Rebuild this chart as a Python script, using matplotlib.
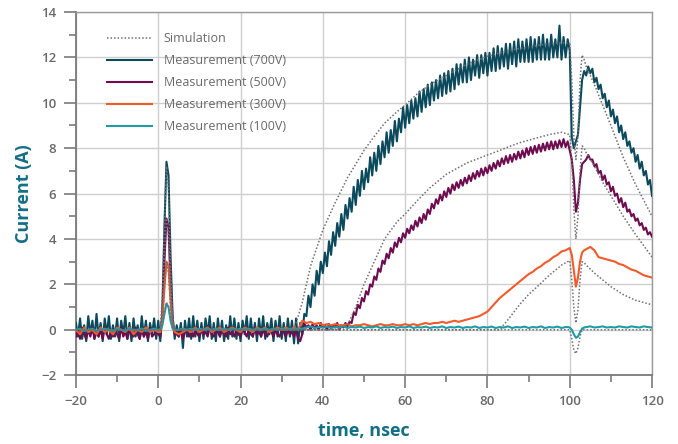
import numpy as np
import matplotlib
matplotlib.use("Agg")
from matplotlib import pyplot as plt
from matplotlib.ticker import MultipleLocator

# 700V / 500V traces are sampled every 0.5 ns
t_fine = np.arange(-20, 120.5, 0.5)
# 300V / 100V traces: 1 ns, finer around the pulse and the dip
t_coarse = np.concatenate([np.arange(-20, 1), np.arange(0.5, 4.5, 0.5), np.arange(5, 100),
                           np.arange(99.5, 104.5, 0.5), np.arange(105, 121)])

meas_700 = [
    # -20 .. 0
    0.3, -0.3, 0.5, -0.4, 0.2, -0.5, 0.6, -0.2, 0.4, -0.4, 0.7, -0.3, 0.3, -0.5, 0.5, -0.2, 0.6, -0.4, 0.2, -0.3,
    0.5, -0.5, 0.4, -0.2, 0.6, -0.4, 0.3, -0.5, 0.5, -0.3, 0.2, -0.4, 0.6, -0.3, 0.4, -0.5, 0.3, -0.2, 0.5, -0.4, 0.4,
    # 0.5 .. 4
    -0.5, 0.8, 4.5, 7.4, 6.8, 3.2, 0.6, -0.4,
    # 4.5 .. 35
    0.2, -0.3, 0.3, -0.8, 0.4, -0.3, 0.5, -0.4, 0.6, -0.3, 0.4, -0.5, 0.3, -0.4, 0.5, -0.2, 0.6, -0.4, 0.3, -0.5,
    0.5, -0.3, 0.4, -0.5, 0.2, -0.4, 0.6, -0.3, 0.5, -0.4, 0.3, -0.5, 0.4, -0.2, 0.6, -0.4, 0.5, -0.3, 0.3, -0.5,
    0.5, -0.3, 0.6, -0.4, 0.3, -0.2, 0.5, -0.5, 0.4, -0.3, 0.6, -0.4, 0.3, -0.5, 0.5, -0.3, 0.4, -0.6, 0.5, -0.6,
    0.3, -0.2,
    # 35.5 .. 99.5
    0.7, 0.6, 1.5, 1.0, 2.0, 1.5, 2.6, 2.0, 3.0, 2.5, 3.4, 2.8, 3.9, 3.3, 4.3, 3.7, 4.7, 4.1, 5.1, 4.4,
    5.5, 4.9, 5.8, 5.2, 6.3, 5.5, 6.6, 5.9, 7.0, 6.2, 7.1, 6.5, 7.6, 6.8, 7.8, 7.0, 8.1, 7.3, 8.3, 7.6,
    8.7, 7.8, 8.8, 8.1, 9.2, 8.3, 9.3, 8.7, 9.8, 8.9, 9.9, 9.1, 10.1, 9.3, 10.2, 9.4, 10.5, 9.6, 10.6, 9.8,
    10.8, 9.9, 10.9, 10.1, 11.0, 10.2, 11.2, 10.3, 11.3, 10.4, 11.4, 10.5, 11.5, 10.6, 11.7, 10.8, 11.7, 10.9, 11.9, 10.9,
    12.0, 11.0, 11.9, 11.2, 12.1, 11.1, 12.1, 11.3, 12.2, 11.2, 12.2, 11.4, 12.4, 11.4, 12.5, 11.5, 12.4, 11.6, 12.6, 11.5,
    12.6, 11.7, 12.7, 11.6, 12.8, 11.8, 12.7, 11.8, 12.8, 11.8, 12.9, 11.8, 12.8, 11.9, 12.9, 11.9, 13.0, 11.9, 12.8, 11.9,
    13.0, 12.0, 12.8, 12.0, 13.4, 11.9, 12.9, 12.0, 12.8,
    # 100 .. 120
    12.3, 8.5, 8.0, 8.3, 8.6, 9.8, 11.0, 11.4, 11.2, 11.6, 11.3, 11.5, 10.9, 11.1, 10.6, 10.8, 10.2, 10.4, 9.8, 10.1,
    9.4, 9.7, 9.1, 9.4, 8.7, 9.0, 8.4, 8.7, 8.1, 8.3, 7.8, 8.0, 7.4, 7.7, 7.1, 7.4, 6.8, 7.0, 6.4, 6.6, 5.9]

meas_500 = [
    # -20 .. 0
    -0.3, 0.0, -0.4, 0.1, -0.2, -0.4, 0.0, -0.3, 0.1, -0.4, -0.1, -0.3, 0.0, -0.4, 0.1, -0.2, -0.4, 0.0, -0.3, 0.0,
    -0.2, -0.4, 0.1, -0.3, -0.1, -0.4, 0.0, -0.2, -0.3, 0.1, -0.2, -0.4, 0.0, -0.3, -0.1, -0.4, 0.1, -0.3, -0.2, 0.0,
    -0.2,
    # 0.5 .. 4
    -0.3, 0.6, 3.0, 4.9, 4.5, 2.0, 0.3, -0.2,
    # 4.5 .. 35
    -0.2, -0.3, 0.0, -0.4, -0.1, 0.0, -0.3, -0.1, -0.3, 0.0, -0.2, -0.3, 0.0, -0.2, -0.1, -0.3, 0.1, -0.2, -0.3, 0.0,
    -0.1, -0.3, 0.0, -0.2, -0.3, 0.1, -0.2, -0.1, -0.3, 0.0, -0.2, -0.3, 0.0, -0.1, -0.3, 0.0, -0.2, -0.3, 0.1, -0.2,
    -0.1, -0.3, 0.0, -0.2, -0.3, 0.0, -0.1, -0.3, 0.0, -0.2, -0.3, 0.0, -0.1, -0.3, 0.0, -0.2, -0.1, -0.3, 0.0, -0.4,
    -0.5, -0.2,
    # 35.5 .. 46.5
    0.3, 0.1, 0.2, 0.0, 0.25, 0.05, 0.2, 0.0, 0.3, 0.1, 0.2, 0.0, 0.25, 0.05, 0.2, 0.1, 0.3, 0.0, 0.2, 0.1,
    0.3, 0.15, 0.35,
    # 47 .. 99.5
    0.3, 0.75, 0.65, 1.1, 0.95, 1.4, 1.25, 1.7, 1.55, 2.0, 1.9, 2.35, 2.2, 2.7, 2.55, 3.05, 2.9, 3.35, 3.15, 3.6,
    3.4, 3.85, 3.65, 4.05, 3.85, 4.25, 4.05, 4.45, 4.25, 4.6, 4.4, 4.8, 4.55, 4.95, 4.7, 5.1, 4.85, 5.3, 5.1, 5.55,
    5.35, 5.75, 5.55, 5.95, 5.7, 6.1, 5.85, 6.25, 6.0, 6.4, 6.15, 6.5, 6.25, 6.6, 6.35, 6.7, 6.45, 6.8, 6.55, 6.9,
    6.65, 7.0, 6.75, 7.1, 6.8, 7.15, 6.9, 7.25, 7.0, 7.35, 7.1, 7.45, 7.2, 7.55, 7.3, 7.65, 7.35, 7.7, 7.4, 7.75,
    7.5, 7.85, 7.55, 7.9, 7.6, 8.0, 7.7, 8.05, 7.75, 8.1, 7.8, 8.15, 7.85, 8.2, 7.9, 8.25, 7.95, 8.3, 7.95, 8.3,
    8.0, 8.35, 8.05, 8.4, 8.05, 8.3,
    # 100 .. 120
    7.9, 7.5, 6.6, 5.2, 5.6, 6.6, 7.3, 7.4, 7.5, 7.7, 7.5, 7.5, 7.2, 7.3, 6.9, 7.0, 6.6, 6.8, 6.4, 6.5,
    6.1, 6.3, 5.9, 6.0, 5.6, 5.8, 5.4, 5.6, 5.2, 5.3, 5.0, 5.1, 4.8, 4.9, 4.6, 4.7, 4.4, 4.5, 4.2, 4.3, 4.1]

meas_300 = [0.0, -0.2, 0.1, -0.1, 0.0, -0.2, 0.1, -0.1, 0.0, -0.2, 0.1, 0.0, -0.1, 0.1, -0.2, 0.0, -0.1, 0.1, -0.1, 0.0, -0.1,
            -0.1, 0.4, 1.8, 3.0, 2.8, 1.2, 0.2, -0.1,
            -0.2, -0.1, 0.0, -0.1, 0.1, -0.1, 0.0, 0.1, -0.1, 0.0, 0.1, -0.1, 0.0, 0.1, 0.0, -0.1, 0.1, 0.0, -0.1, 0.1,
            0.0, 0.1, -0.1, 0.0, 0.1, 0.0, 0.1, 0.0, 0.1, 0.0,
            0.4, 0.3, 0.35, 0.25, 0.3, 0.2, 0.25, 0.2, 0.25, 0.2, 0.2, 0.25, 0.15, 0.2, 0.2, 0.25, 0.2, 0.15, 0.2, 0.25,
            0.2, 0.2, 0.25, 0.2, 0.2, 0.25, 0.2, 0.25, 0.2, 0.25, 0.3, 0.25, 0.3, 0.3, 0.35, 0.3, 0.35, 0.4, 0.35, 0.4,
            0.45, 0.5, 0.55,
            0.6, 0.7, 0.8, 1.0, 1.2, 1.4, 1.55, 1.7, 1.85, 2.0, 2.15, 2.3, 2.45, 2.55, 2.7, 2.8, 2.95, 3.05, 3.2, 3.3,
            3.45, 3.5,
            3.55, 3.6, 3.3, 2.6, 1.9, 2.3, 3.0, 3.4, 3.5, 3.55,
            3.65, 3.5, 3.2, 3.15, 3.1, 3.05, 3.0, 2.9, 2.85, 2.75, 2.65, 2.6, 2.5, 2.4, 2.35, 2.3]

meas_100 = [0.0, 0.05, -0.05, 0.0, 0.05, -0.05, 0.0, 0.05, 0.0, -0.05, 0.05, 0.0, -0.05, 0.05, 0.0, 0.0, 0.05, -0.05, 0.0, 0.05, 0.0,
            0.0, 0.2, 0.7, 1.15, 1.0, 0.4, 0.05, 0.0,
            0.0, 0.05, 0.0, 0.05, 0.0, 0.05, 0.0, 0.05, 0.0, 0.05, 0.0, 0.05, 0.0, 0.05, 0.0, 0.05, 0.0, 0.05, 0.0, 0.05,
            0.0, 0.05, 0.0, 0.05, 0.0, 0.05, 0.0, 0.05, 0.0, 0.05, 0.05,
            0.1, 0.15, 0.08, 0.12, 0.1, 0.14, 0.08, 0.12, 0.1, 0.15, 0.08, 0.12, 0.1, 0.14, 0.08, 0.12,
            0.1, 0.15, 0.08, 0.12, 0.1, 0.14, 0.08, 0.12, 0.1, 0.15, 0.08, 0.12, 0.1, 0.14, 0.08, 0.12,
            0.1, 0.15, 0.08, 0.12, 0.1, 0.14, 0.08, 0.12, 0.1, 0.15, 0.08, 0.12, 0.1, 0.14, 0.08, 0.12,
            0.1, 0.15, 0.08, 0.12, 0.1, 0.14, 0.08, 0.12, 0.1, 0.15, 0.08, 0.12, 0.1, 0.14, 0.08, 0.12,
            0.12, 0.1, 0.0, -0.2, -0.35, -0.3, -0.1, 0.05, 0.1, 0.12,
            0.15, 0.1, 0.12, 0.15, 0.1, 0.12, 0.1, 0.15, 0.12, 0.1, 0.15, 0.12, 0.1, 0.15, 0.12, 0.1]

# simulated waveforms
t_sim = [-20, 0, 0.5, 1, 1.5, 2, 2.5, 3, 3.5, 4, 5, 30, 33, 35, 37, 40, 43, 46, 48, 50, 52, 55, 58, 60, 63, 66,
         70, 75, 80, 83, 85, 88, 90, 93, 95, 98, 100, 100.5, 101, 101.5, 102, 102.5, 103, 103.5, 104,
         106, 108, 110, 113, 116, 120]
sim_700 = [0, 0, 0, 1.5, 4.8, 7.2, 6.2, 2.8, 0.6, 0, 0,
           0, 0, 1.2, 2.8, 4.4, 5.6, 6.7, 7.3, 7.9, 8.4, 9.1, 9.6, 9.9, 10.4, 10.8,
           11.2, 11.7, 12.05, 12.2, 12.3, 12.4, 12.45, 12.55, 12.6, 12.65, 12.6,
           11.0, 8.5, 7.5, 8.5, 11.0, 12.1, 11.9, 11.6,
           10.8, 9.9, 9.0, 7.6, 6.4, 5.0]
sim_500 = [0, 0, 0, 1.0, 3.2, 4.9, 4.2, 1.9, 0.4, 0, 0,
           0, 0, 0, 0, 0, 0, 0.2, 1.0, 2.0, 2.8, 4.0, 4.75, 5.1, 5.7, 6.25,
           6.85, 7.35, 7.7, 7.9, 8.05, 8.25, 8.35, 8.5, 8.6, 8.7, 8.6,
           7.5, 5.3, 4.0, 5.0, 7.0, 8.1, 8.0, 7.8,
           7.2, 6.5, 5.9, 5.0, 4.2, 3.2]
sim_300 = [0, 0, 0, 0.6, 1.9, 3.0, 2.5, 1.1, 0.2, 0, 0,
           0, 0, 0, 0, 0, 0, 0, 0, 0, 0, 0, 0, 0, 0, 0,
           0, 0, 0, 0, 0.45, 1.15, 1.55, 2.05, 2.4, 2.85, 3.05,
           2.2, 1.0, 0.3, 0.9, 2.2, 3.0, 2.95, 2.85,
           2.5, 2.2, 1.9, 1.55, 1.3, 1.1]
sim_100 = [0, 0, 0, 0.25, 0.75, 1.2, 1.0, 0.45, 0.1, 0, 0,
           0, 0, 0, 0, 0, 0, 0, 0, 0, 0, 0, 0, 0, 0, 0,
           0, 0, 0, 0, 0, 0, 0, 0, 0, 0, 0,
           -0.4, -0.9, -1.05, -0.8, -0.3, 0.0, 0, 0,
           0, 0, 0, 0, 0, 0]

labels = ["Measurement (700V)", "Measurement (500V)", "Measurement (300V)", "Measurement (100V)"]
colors = ["#0b4a5c", "#6e0c50", "#f25a28", "#1f9ba6"]

TEAL = "#136f86"
GREY = "#6a6a6a"
plt.rcParams["font.family"] = ["Open Sans", "DejaVu Sans"]


def main():
    fig = plt.figure(figsize=(6.78, 4.44), dpi=100)
    ax = fig.add_axes([0.112, 0.155, 0.8497, 0.818])

    series = [(t_fine, meas_700), (t_fine, meas_500), (t_coarse, meas_300), (t_coarse, meas_100)]
    handles = []
    for (t, y), lab, c in zip(series, labels, colors):
        h, = ax.plot(t, y, color=c, lw=1.5, label=lab, zorder=3)
        handles.append(h)

    sim_h = None
    for s in [sim_700, sim_500, sim_300, sim_100]:
        sim_h, = ax.plot(t_sim, s, color="#707070", lw=1.1, ls=(0, (1, 1.3)), zorder=4,
                         label="Simulation")

    ax.set_xlim(-20, 120)
    ax.set_ylim(-2, 14)
    ax.xaxis.set_major_locator(MultipleLocator(20))
    ax.xaxis.set_minor_locator(MultipleLocator(10))
    ax.yaxis.set_major_locator(MultipleLocator(2))
    ax.yaxis.set_minor_locator(MultipleLocator(1))
    ax.grid(True, which="major", color="#cfcfcf", lw=1.0, zorder=0)
    ax.set_axisbelow(True)

    for side in ["left", "bottom"]:
        ax.spines[side].set_color("#7a7a7a")
        ax.spines[side].set_linewidth(1.3)
    for side in ["top", "right"]:
        ax.spines[side].set_color("#9a9a9a")
        ax.spines[side].set_linewidth(1.0)

    ax.tick_params(which="major", direction="out", length=9, width=1.2, color="#7a7a7a",
                   labelcolor=GREY, labelsize=9.5, pad=5)
    ax.tick_params(which="minor", direction="out", length=5, width=1.2, color="#7a7a7a")
    for lbl in ax.get_xticklabels() + ax.get_yticklabels():
        lbl.set_fontweight("semibold")

    ax.set_xlabel("time, nsec", color=TEAL, fontsize=13, fontweight="bold", labelpad=10)
    ax.set_ylabel("Current (A)", color=TEAL, fontsize=13, fontweight="bold", labelpad=6)

    leg = ax.legend([sim_h] + handles, ["Simulation"] + labels, loc="upper left",
                    bbox_to_anchor=(0.035, 0.975), frameon=False, fontsize=9,
                    handlelength=3.6, labelspacing=0.72, handletextpad=0.9)
    for txt in leg.get_texts():
        txt.set_color(GREY)

    fig.savefig("out.png", dpi=100)


if __name__ == "__main__":
    main()
